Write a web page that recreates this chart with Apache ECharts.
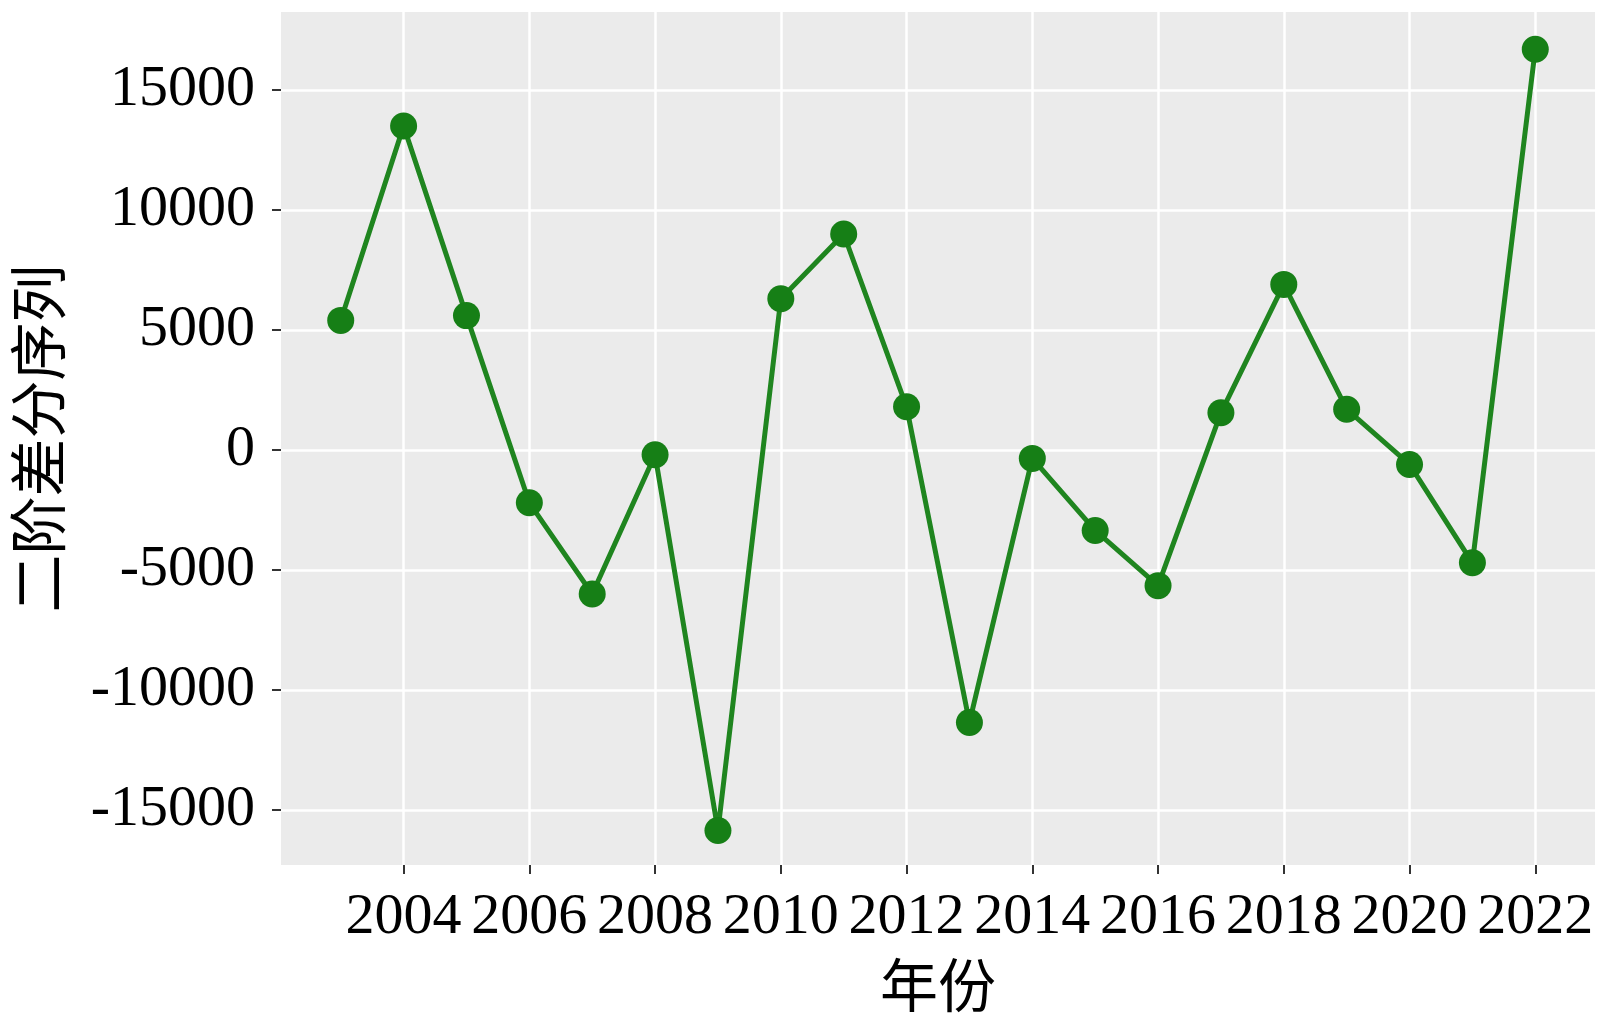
<!DOCTYPE html>
<html>
<head>
<meta charset="utf-8">
<title>二阶差分序列</title>
<script src="https://cdn.jsdelivr.net/npm/echarts@6/dist/echarts.min.js"></script>
<style>
  html, body { margin: 0; padding: 0; background: #fff; }
  #chart { width: 1600px; height: 1026px; }
</style>
</head>
<body>
<div id="chart"></div>
<script>
// data
var years = [2003, 2004, 2005, 2006, 2007, 2008, 2009, 2010, 2011, 2012,
             2013, 2014, 2015, 2016, 2017, 2018, 2019, 2020, 2021, 2022];
var diff2 = [5400, 13500, 5600, -2200, -6000, -200, -15850, 6300, 9000, 1800,
             -11350, -350, -3350, -5650, 1550, 6900, 1700, -600, -4700, 16700];
var xTicks = [2004, 2006, 2008, 2010, 2012, 2014, 2016, 2018, 2020, 2022];
var yTicks = [-15000, -10000, -5000, 0, 5000, 10000, 15000];

var serif = "'Liberation Serif', 'Noto Sans CJK SC', serif";

var points = years.map(function (y, i) { return [y, diff2[i]]; });

var chart = echarts.init(document.getElementById('chart'));
var option = {
  animation: false,
  backgroundColor: '#ffffff',
  grid: {
    left: 281, right: 5, top: 12, bottom: 161,
    outerBoundsMode: 'none',
    containLabel: false,
    show: true, backgroundColor: '#ebebeb', borderWidth: 0
  },
  xAxis: {
    type: 'value',
    min: 2002.05,
    max: 2022.95,
    name: '年份',
    nameLocation: 'middle',
    nameGap: 98,
    nameTextStyle: { fontFamily: serif, fontSize: 58, color: '#000' },
    axisLine: { show: false, onZero: false },
    axisTick: {
      show: true, length: 9, customValues: xTicks,
      lineStyle: { color: '#333', width: 2 }
    },
    axisLabel: {
      customValues: xTicks,
      margin: 24,
      fontFamily: serif, fontSize: 58, color: '#000',
      formatter: function (v) { return String(v); }
    },
    splitLine: { show: true, lineStyle: { color: '#ffffff', width: 2.5 } }
  },
  yAxis: {
    type: 'value',
    min: -17290,
    max: 18250,
    name: '二阶差分序列',
    nameLocation: 'middle',
    nameGap: 207,
    nameRotate: 90,
    nameTextStyle: { fontFamily: serif, fontSize: 58, color: '#000' },
    axisLine: { show: false, onZero: false },
    axisTick: {
      show: true, length: 9, customValues: yTicks,
      lineStyle: { color: '#333', width: 2 }
    },
    axisLabel: {
      customValues: yTicks,
      margin: 26,
      fontFamily: serif, fontSize: 58, color: '#000',
      formatter: function (v) { return String(v); }
    },
    splitLine: { show: true, lineStyle: { color: '#ffffff', width: 2.5 } }
  },
  series: [
    {
      type: 'line',
      data: points,
      symbol: 'circle',
      symbolSize: 27,
      lineStyle: { color: '#1f851f', width: 5 },
      itemStyle: { color: '#167f16', borderWidth: 0 }
    }
  ]
};
if (option && typeof option === 'object') {
  chart.setOption(option);
}
</script>
</body>
</html>
